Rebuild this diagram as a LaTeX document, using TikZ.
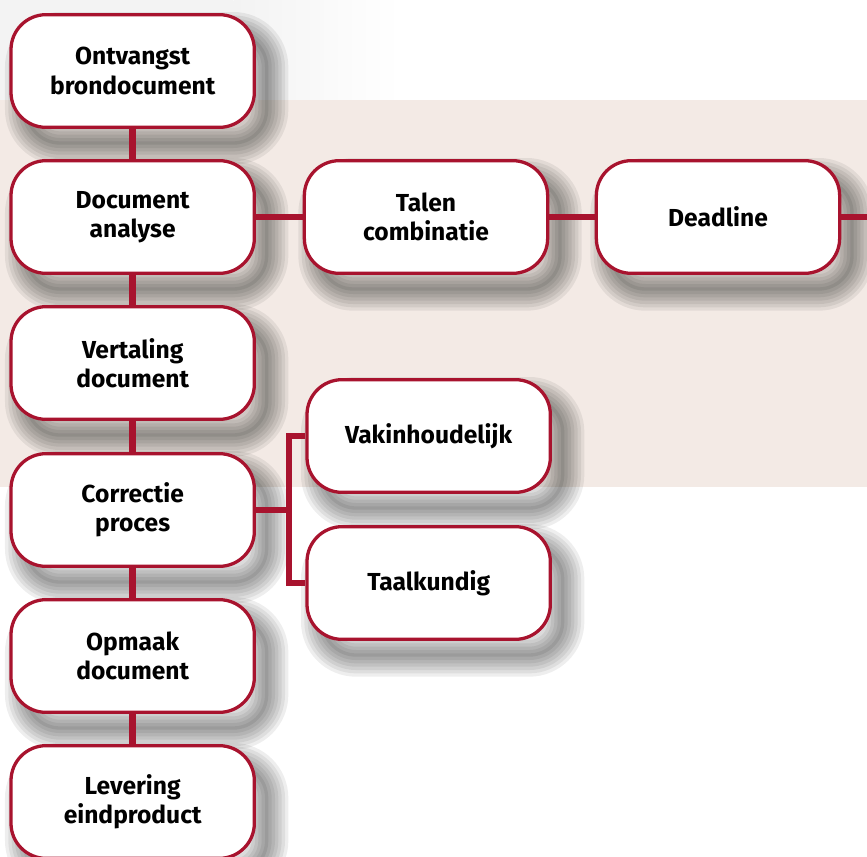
\documentclass[tikz,border=0pt]{standalone}
\usepackage{fontspec}
\setmainfont{Fira Sans}
\usepackage{tikz}
\usetikzlibrary{positioning}
\usetikzlibrary{shadows}
\definecolor{darkred}{HTML}{A8132E}
\definecolor{sand}{HTML}{F3EAE5}
\definecolor{mist}{HTML}{F3F3F3}
\tikzset {
  % soft layers of the shadow
  haze/.style={general shadow={draw=black, line width=#1, opacity=0.065,
    shadow xshift=0.42cm, shadow yshift=-0.52cm}},
  hazefill/.style={general shadow={fill=black, opacity=0.08,
    shadow xshift=0.42cm, shadow yshift=-0.52cm}},
  % rounded step box
  main/.style = {draw=darkred, line width=2.8pt, fill=white, rounded corners=1.05cm,
    minimum width=7.3cm, minimum height=3.38cm, align=center,
    font=\bfseries\fontsize{21}{25}\selectfont,
    haze=1.2cm, haze=1.0cm, haze=0.8cm, haze=0.6cm, haze=0.4cm, haze=0.2cm, hazefill},
  % connectors between the steps
  link/.style={darkred, line width=5.6pt},
}

\begin{document}
\begin{tikzpicture}
      \useasboundingbox (0,0) rectangle (26.01,-25.68);

      % background bands
      \fill[mist] (0,0) rectangle (7,-3);
      \shade[left color=mist, right color=white] (7,0) rectangle (12,-3);
      \fill[sand] (0,-3) rectangle (26.01,-14.61);

      \node[main] (ontv) at (3.98, -2.13) {Ontvangst\\brondocument};
      \node[main] (analyse) at (3.98, -6.51) {Document\\analyse};
      \node[main] (vert) at (3.98, -10.89) {Vertaling\\document};
      \node[main] (corr) at (3.98, -15.30) {Correctie\\proces};
      \node[main] (opmaak) at (3.98, -19.68) {Opmaak\\document};
      \node[main] (lev) at (3.98, -24.06) {Levering\\eindproduct};

      \node[main] (talen) at (12.78, -6.51) {Talen\\combinatie};
      \node[main] (deadline) at (21.54, -6.51) {Deadline};

      \node[main] (vak) at (12.86, -13.08) {Vakinhoudelijk};
      \node[main] (taal) at (12.86, -17.49) {Taalkundig};

      \coordinate (split) at (8.67, -15.30);
      \coordinate (rand) at (26.2, -6.51);

      \draw [link] (ontv) -- (analyse);
      \draw [link] (analyse) -- (vert);
      \draw [link] (vert) -- (corr);
      \draw [link] (corr) -- (opmaak);
      \draw [link] (opmaak) -- (lev);
      \draw [link] (analyse) -- (talen);
      \draw [link] (talen) -- (deadline);
      \draw [link] (deadline) -- (rand);
      \draw [link] (corr) -- (split);
      \draw [link] (vak.west) -- (vak.west -| split) -- (taal.west -| split) -- (taal.west);
    \end{tikzpicture}
\end{document}
